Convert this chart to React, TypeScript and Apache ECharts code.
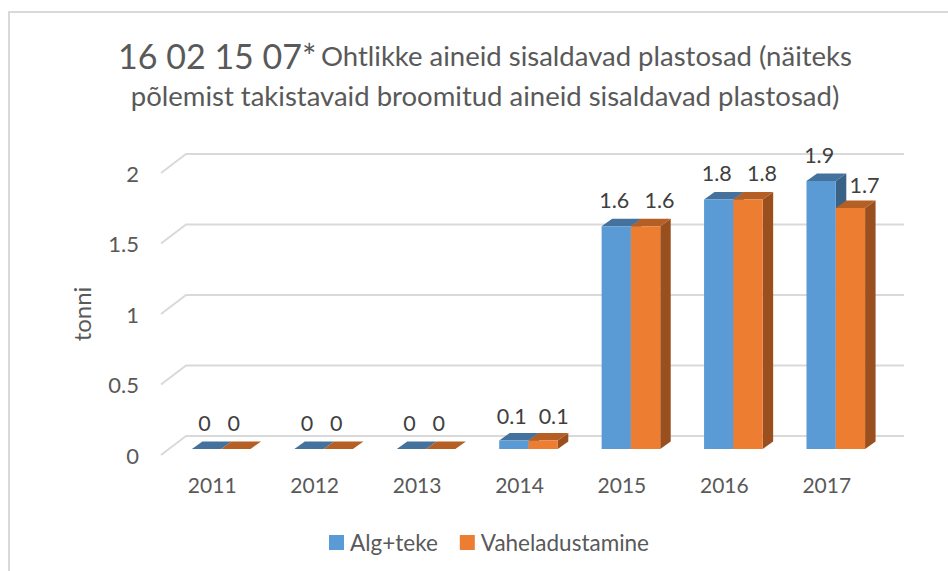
import React, { useEffect, useRef } from "react";
import * as echarts from "echarts";

const years = ["2011", "2012", "2013", "2014", "2015", "2016", "2017"];
const algTeke = [0, 0, 0, 0.06, 1.58, 1.77, 1.9];
const vaheladustamine = [0, 0, 0, 0.06, 1.58, 1.77, 1.71];
const ticks = [0, 0.5, 1, 1.5, 2];
const FONT = "Lato, 'Open Sans', sans-serif";
const TXT = "#595959";

const BAR_W = 29.3;
const PLANE_DX = 9;
const PLANE_DY = -6;
const DEPTH_X = 10.5;
const DEPTH_Y = 7.5;

function bar3d(serie: number, front: string, top: string, side: string) {
  return (params: any, api: any) => {
    const cat = api.value(0);
    const v = api.value(1);
    const [cx, y0] = api.coord([cat, 0]);
    const [, y1] = api.coord([cat, v]);
    const xL = cx + PLANE_DX + (serie === 0 ? -BAR_W : 0);
    const xR = xL + BAR_W;
    const b = y0 + PLANE_DY;
    const t = y1 + PLANE_DY;
    const poly = (pts: number[][], fill: string) => ({
      type: "polygon",
      shape: { points: pts },
      style: { fill, stroke: null },
    });
    const mid = (xL + xR) / 2;
    let ldx = -2;
    let ldy = v > 0 && v < 0.5 ? 25 : 26;
    if (serie === 1) {
      ldx = v === 0 ? -2 : v < 0.5 ? 10.5 : 14;
      ldy = v >= 1.6 && v < 1.75 ? 23 : ldy;
    }
    const children: any[] = [
      poly([[xR, b], [xR + DEPTH_X, b - DEPTH_Y], [xR + DEPTH_X, t - DEPTH_Y], [xR, t]], side),
      poly([[xL, t], [xR, t], [xR + DEPTH_X, t - DEPTH_Y], [xL + DEPTH_X, t - DEPTH_Y]], top),
      poly([[xL, b], [xR, b], [xR, t], [xL, t]], front),
      {
        type: "text",
        style: {
          x: mid + ldx,
          y: t - ldy,
          text: api.value(2),
          fill: "#404040",
          font: `21.5px ${FONT}`,
          align: "center",
          verticalAlign: "middle",
        },
      },
    ];
    return { type: "group", children };
  };
}

function gridWall(params: any, api: any) {
  const v = api.value(0);
  const [x0, y] = api.coord([0, v]);
  const left = x0 - 102.4 / 2;
  const right = left + 717;
  const style = { stroke: "#d9d9d9", lineWidth: 2, fill: "none" };
  return {
    type: "polyline",
    shape: { points: [[left, y], [left + 25, y - 19], [right + 26, y - 19]] },
    style,
  };
}

const makeData = (vals: number[]) =>
  vals.map((v, i) => [i, v, v === 0 ? "0" : v.toFixed(1)]);

export default function App() {
  const ref = useRef<HTMLDivElement>(null);
  useEffect(() => {
    const chart = echarts.init(ref.current!, undefined, { renderer: "svg" });
    chart.setOption({
      animation: false,
      backgroundColor: "#fff",
      textStyle: { fontFamily: FONT },
      title: {
        left: 480,
        top: 30,
        textAlign: "center",
        text: "{a|16 02 15 07*} {b|Ohtlikke aineid sisaldavad plastosad (näiteks}\n{b|põlemist takistavaid broomitud aineid sisaldavad plastosad)}",
        textStyle: {
          color: TXT,
          fontWeight: "normal",
          rich: {
            a: { fontSize: 34, fontWeight: "normal", fontFamily: FONT, color: TXT, lineHeight: 40 },
            b: { fontSize: 27.5, fontWeight: "normal", fontFamily: FONT, color: TXT, lineHeight: 40 },
          },
        },
      },
      legend: {
        left: 324,
        top: 526,
        icon: "rect",
        itemWidth: 15,
        itemHeight: 15,
        itemGap: 22,
        data: ["Alg+teke", "Vaheladustamine"],
        textStyle: { fontSize: 22.5, color: TXT, fontFamily: FONT, padding: [0, 0, 0, 1] },
      },
      grid: { left: 161, top: 173, width: 717, height: 282 },
      xAxis: {
        type: "category",
        data: years,
        axisLine: { show: false },
        axisTick: { show: false },
        axisLabel: { color: TXT, fontSize: 21, fontFamily: FONT, margin: 19 },
      },
      yAxis: {
        type: "value",
        min: 0,
        max: 2,
        interval: 0.5,
        name: "tonni",
        nameLocation: "middle",
        nameGap: 68,
        nameTextStyle: { color: TXT, fontSize: 24, fontFamily: FONT },
        axisLine: { show: false },
        axisTick: { show: false },
        splitLine: { show: false },
        axisLabel: { color: TXT, fontSize: 22, fontFamily: FONT, margin: 22 },
      },
      series: [
        {
          type: "custom",
          silent: true,
          data: ticks.map((t) => [t]),
          encode: { y: 0 },
          renderItem: gridWall,
        },
        {
          type: "custom",
          name: "Alg+teke",
          itemStyle: { color: "#5b9bd5" },
          data: makeData(algTeke),
          encode: { x: 0, y: 1 },
          renderItem: bar3d(0, "#5b9bd5", "#44729d", "#3a6285"),
        },
        {
          type: "custom",
          name: "Vaheladustamine",
          itemStyle: { color: "#ed7d31" },
          data: makeData(vaheladustamine),
          encode: { x: 0, y: 1 },
          renderItem: bar3d(1, "#ed7d31", "#b55f24", "#99501e"),
        },
      ],
      graphic: [
        {
          type: "rect",
          silent: true,
          z: -1,
          shape: { x: 9, y: 12, width: 960, height: 580 },
          style: { fill: "none", stroke: "#d9d9d9", lineWidth: 2 },
        },
      ],
    });
    return () => chart.dispose();
  }, []);
  return (
    <div
      ref={ref}
      style={{ position: "fixed", left: 0, top: 0, width: 948, height: 571 }}
    />
  );
}
